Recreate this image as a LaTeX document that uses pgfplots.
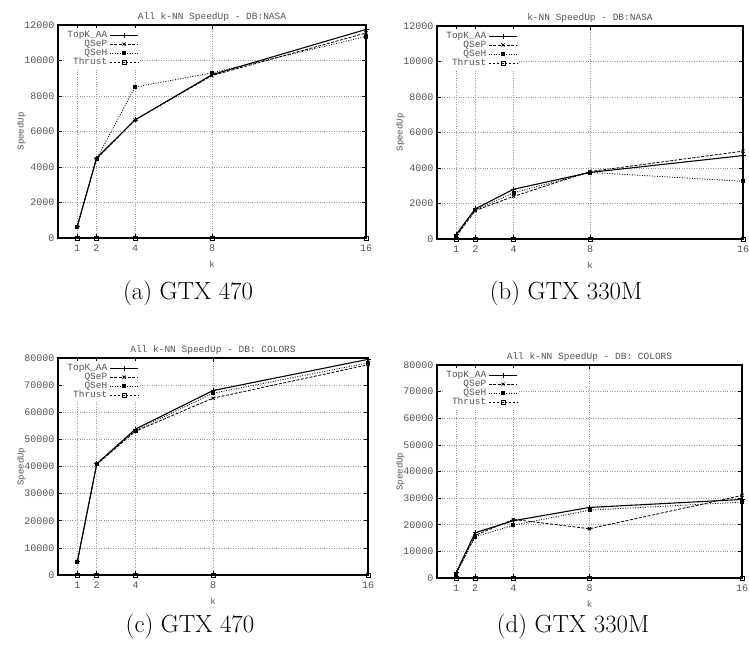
\documentclass[border=0pt]{standalone}
\usepackage{fontspec}
\usepackage{pgfplots}
\usepackage{pgfplotstable}
\pgfplotsset{compat=1.18}
\newfontfamily\gp{Liberation Mono}
\definecolor{gptext}{HTML}{555555}
\definecolor{gpgrid}{HTML}{9A9A9A}

% speedup per k, one table per panel
\pgfplotstableread{
k  topk  qsep  qseh  thrust
1  650   650   650   5
2  4500  4450  4450  5
4  6650  6650  8500  5
8  9200  9150  9300  5
16 11750 11550 11350 5
}\nasaA
\pgfplotstableread{
k  topk  qsep  qseh  thrust
1  250   150   200   5
2  1700  1600  1650  5
4  2800  2400  2600  5
8  3750  3800  3750  5
16 4700  4950  3250  5
}\nasaB
\pgfplotstableread{
k  topk  qsep  qseh  thrust
1  5000  5000  5000  20
2  41000 40800 41000 20
4  53800 53000 53300 20
8  68000 65200 67000 20
16 79500 77500 78200 20
}\colorsA
\pgfplotstableread{
k  topk  qsep  qseh  thrust
1  2000  1500  1500  20
2  17000 16000 15500 20
4  21500 22000 19800 20
8  26500 18500 25500 20
16 29500 31000 28500 20
}\colorsB

\pgfplotsset{
  gpaxis/.style={
    scale only axis, anchor=south west,
    xmin=0, xmax=16, xtick={1,2,4,8,16}, ymin=0,
    grid=major, grid style={gpgrid, dotted, line width=0.6pt},
    axis line style={line width=1.2pt},
    tick style={black, line width=0.6pt}, major tick length=4pt,
    tick label style={font=\gp\fontsize{10}{10}\selectfont, text=gptext},
    xticklabel style={yshift=-3pt},
    /pgf/number format/assume math mode=true,
    /pgf/number format/set thousands separator={},
    scaled ticks=false,
    title style={font=\gp\fontsize{9.5}{10}\selectfont, text=gptext, yshift=-6pt},
    label style={font=\gp\fontsize{9}{10}\selectfont, text=gptext},
    xlabel style={yshift=-3pt},
    ylabel shift=-8pt,
    xlabel={k}, ylabel={SpeedUp},
    legend style={at={(0.02,0.985)}, anchor=north west, fill=white, draw=none,
      font=\gp\fontsize{9.5}{9.5}\selectfont, text=gptext,
      row sep=-3pt, inner sep=1pt},
    legend cell align=right, legend plot pos=right,
    legend image code/.code={%
      \draw[mark repeat=2, mark phase=2, ##1]
        plot coordinates {(0cm,0cm) (0.5cm,0cm) (1.0cm,0cm)};},
  },
  topk/.style={black, line width=1.1pt, mark=+, mark size=2.5pt, mark options={solid, line width=0.7pt}},
  qsep/.style={black, line width=0.8pt, dash pattern=on 3pt off 1.5pt, mark=x, mark size=2.2pt, mark options={solid}},
  qseh/.style={black, line width=0.8pt, dash pattern=on 1pt off 1.5pt, mark=square*, mark size=1.5pt, mark options={solid}},
  thrust/.style={black, line width=0.6pt, dash pattern=on 2.5pt off 1.5pt, mark=square, mark size=2pt, mark options={solid}},
}

\newcommand{\fourseries}[1]{%
  \addplot[topk] table[x=k, y=topk] {#1};
  \addplot[qsep] table[x=k, y=qsep] {#1};
  \addplot[qseh] table[x=k, y=qseh] {#1};
  \addplot[thrust] table[x=k, y=thrust] {#1};
  \legend{TopK\_AA, QSeP, QSeH, Thrust}%
}

\begin{document}
\begin{tikzpicture}
\path[use as bounding box] (0,0) rectangle (749pt,645pt);

\begin{axis}[gpaxis, at={(58pt,407pt)}, width=308pt, height=213pt,
    ymax=12000, ytick={0,2000,...,12000}, title={All k-NN SpeedUp - DB:NASA}]
  \fourseries{\nasaA}
\end{axis}

\begin{axis}[gpaxis, at={(437pt,406pt)}, width=306pt, height=213pt,
    ymax=12000, ytick={0,2000,...,12000}, title={k-NN SpeedUp - DB:NASA}]
  \fourseries{\nasaB}
\end{axis}

\begin{axis}[gpaxis, at={(58pt,70pt)}, width=310pt, height=217pt,
    ymax=80000, ytick={0,10000,...,80000}, title={All k-NN SpeedUp - DB: COLORS}]
  \fourseries{\colorsA}
\end{axis}

\begin{axis}[gpaxis, at={(437pt,67pt)}, width=305pt, height=213pt,
    ymax=80000, ytick={0,10000,...,80000}, title={All k-NN SpeedUp - DB: COLORS}]
  \fourseries{\colorsB}
\end{axis}

\node[anchor=base] at (188pt,345pt) {\fontsize{24.8}{30}\selectfont (a) GTX 470};
\node[anchor=base] at (566pt,345pt) {\fontsize{24.8}{30}\selectfont (b) GTX 330M};
\node[anchor=base] at (190pt,13pt) {\fontsize{24.8}{30}\selectfont (c) GTX 470};
\node[anchor=base] at (573pt,13pt) {\fontsize{24.8}{30}\selectfont (d) GTX 330M};
\end{tikzpicture}
\end{document}
